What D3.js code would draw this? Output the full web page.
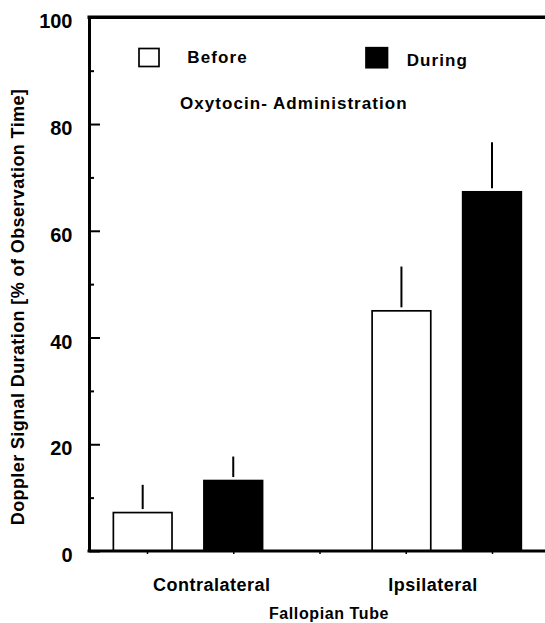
<!DOCTYPE html>
<html>
<head>
<meta charset="utf-8">
<script src="https://cdn.jsdelivr.net/npm/d3@7"></script>
<style>
  body { margin: 0; background: #fff; }
  text { font-family: "Liberation Sans", Arial, Helvetica, sans-serif; font-weight: bold; fill: #000; }
</style>
</head>
<body>
<div id="chart"></div>
<script>
// data
var categories = ["Contralateral", "Ipsilateral"];
var seriesNames = ["Before", "During"];
var beforeValues = [7.2, 45.0];
var beforeErrors = [5.2, 8.3];
var duringValues = [13.2, 67.3];
var duringErrors = [4.5, 9.3];
var yTicks = [0, 20, 40, 60, 80, 100];
var yMinorTicks = [10, 30, 50, 70, 90];
var xTicks = [1, 2, 3, 4, 5];

var width = 545, height = 623;
var m = { left: 89, right: 545, top: 17.3, bottom: 551 };

var svg = d3.select("#chart").append("svg")
    .attr("width", width)
    .attr("height", height);

var y = d3.scaleLinear().domain([0, 100]).range([m.bottom, m.top]);
// slot positions: 1,2 contralateral ; 4,5 ipsilateral
var x = d3.scaleLinear().domain([0, 6]).range([60.75, 578.25]);
var barW = x(0.68) - x(0);

// build bar table
var bars = [];
categories.forEach(function (c, i) {
    bars.push({ cat: c, s: "Before", v: beforeValues[i], e: beforeErrors[i], pos: 1 + 3 * i - 0.05 });
    bars.push({ cat: c, s: "During", v: duringValues[i], e: duringErrors[i], pos: 2 + 3 * i });
});

// bars
svg.selectAll("rect.bar")
    .data(bars)
    .enter().append("rect")
    .attr("class", "bar")
    .attr("x", function (d) { return x(d.pos) - barW / 2; })
    .attr("y", function (d) { return y(d.v); })
    .attr("width", barW)
    .attr("height", function (d) { return y(0) - y(d.v); })
    .style("fill", function (d) { return d.s == "Before" ? "#fff" : "#000"; })
    .style("stroke", "#000")
    .style("stroke-width", 1.7);

// upper error bars only, a little gap above the bar
svg.selectAll("line.err")
    .data(bars)
    .enter().append("line")
    .attr("class", "err")
    .attr("x1", function (d) { return x(d.pos); })
    .attr("x2", function (d) { return x(d.pos); })
    .attr("y1", function (d) { return y(d.v) - 3.5; })
    .attr("y2", function (d) { return y(d.v + d.e); })
    .style("stroke", "#000")
    .style("stroke-width", 2);

// y axis, ticks pointing inward
var yAxis = svg.append("g")
    .attr("transform", "translate(" + m.left + ",0)")
    .call(d3.axisLeft(y).tickValues(yTicks).tickSizeInner(-11).tickSizeOuter(0).tickPadding(16.5));
yAxis.select(".domain").style("stroke-width", 3);
yAxis.selectAll(".tick line").style("stroke-width", 2);
yAxis.selectAll(".tick text")
    .attr("dy", "0.53em")
    .style("font-size", "20px")
    .style("font-family", "'Liberation Sans', Arial, sans-serif");

var yMinor = svg.append("g")
    .attr("transform", "translate(" + m.left + ",0)")
    .call(d3.axisLeft(y).tickValues(yMinorTicks).tickSizeInner(-5).tickSizeOuter(0).tickFormat(""));
yMinor.select(".domain").remove();
yMinor.selectAll(".tick line").style("stroke-width", 2);

// bottom axis line and small tick marks
svg.append("line")
    .attr("x1", m.left - 1.5).attr("x2", m.right)
    .attr("y1", y(0)).attr("y2", y(0))
    .style("stroke", "#000").style("stroke-width", 3);
var xAxis = svg.append("g")
    .attr("transform", "translate(0," + y(0) + ")")
    .call(d3.axisBottom(x).tickValues(xTicks).tickSizeInner(3).tickSizeOuter(0).tickFormat(""));
xAxis.select(".domain").remove();
xAxis.selectAll(".tick line").style("stroke-width", 1.5);

// top frame line at 100
svg.append("line")
    .attr("x1", m.left - 1.5).attr("x2", m.right)
    .attr("y1", y(100)).attr("y2", y(100))
    .style("stroke", "#000").style("stroke-width", 3.5);

// category labels
var labelPos = [1.75, 4.315];
svg.selectAll("text.cat")
    .data(categories)
    .enter().append("text")
    .attr("class", "cat")
    .attr("x", function (d, i) { return x(labelPos[i]); })
    .attr("y", 591)
    .attr("text-anchor", "middle")
    .style("font-size", "18px")
    .style("letter-spacing", "0.5px")
    .text(function (d) { return d; });

svg.append("text")
    .attr("x", x(3.11))
    .attr("y", 619)
    .attr("text-anchor", "middle")
    .style("font-size", "16px")
    .style("letter-spacing", "0.6px")
    .text("Fallopian Tube");

svg.append("text")
    .attr("transform", "translate(24," + 307 + ") rotate(-90)")
    .attr("text-anchor", "middle")
    .style("font-size", "18px")
    .style("letter-spacing", "0.4px")
    .text("Doppler Signal Duration [% of Observation Time]");

// legend
var legend = [
    { name: seriesNames[0], fill: "#fff", bx: 139, by: 48.5, bw: 20, bh: 18, tx: 187.3, ty: 63.3 },
    { name: seriesNames[1], fill: "#000", bx: 366, by: 47.7, bw: 21.5, bh: 20, tx: 406.7, ty: 65.7 }
];
var lg = svg.selectAll("g.legend")
    .data(legend)
    .enter().append("g")
    .attr("class", "legend");
lg.append("rect")
    .attr("x", function (d) { return d.bx; })
    .attr("y", function (d) { return d.by; })
    .attr("width", function (d) { return d.bw; })
    .attr("height", function (d) { return d.bh; })
    .style("fill", function (d) { return d.fill; })
    .style("stroke", "#000")
    .style("stroke-width", 1.7);
lg.append("text")
    .attr("x", function (d) { return d.tx; })
    .attr("y", function (d) { return d.ty; })
    .style("font-size", "17px")
    .style("letter-spacing", "1.1px")
    .text(function (d) { return d.name; });

svg.append("text")
    .attr("x", 180)
    .attr("y", 109)
    .style("font-size", "17px")
    .style("letter-spacing", "1.05px")
    .text("Oxytocin- Administration");
</script>
</body>
</html>
